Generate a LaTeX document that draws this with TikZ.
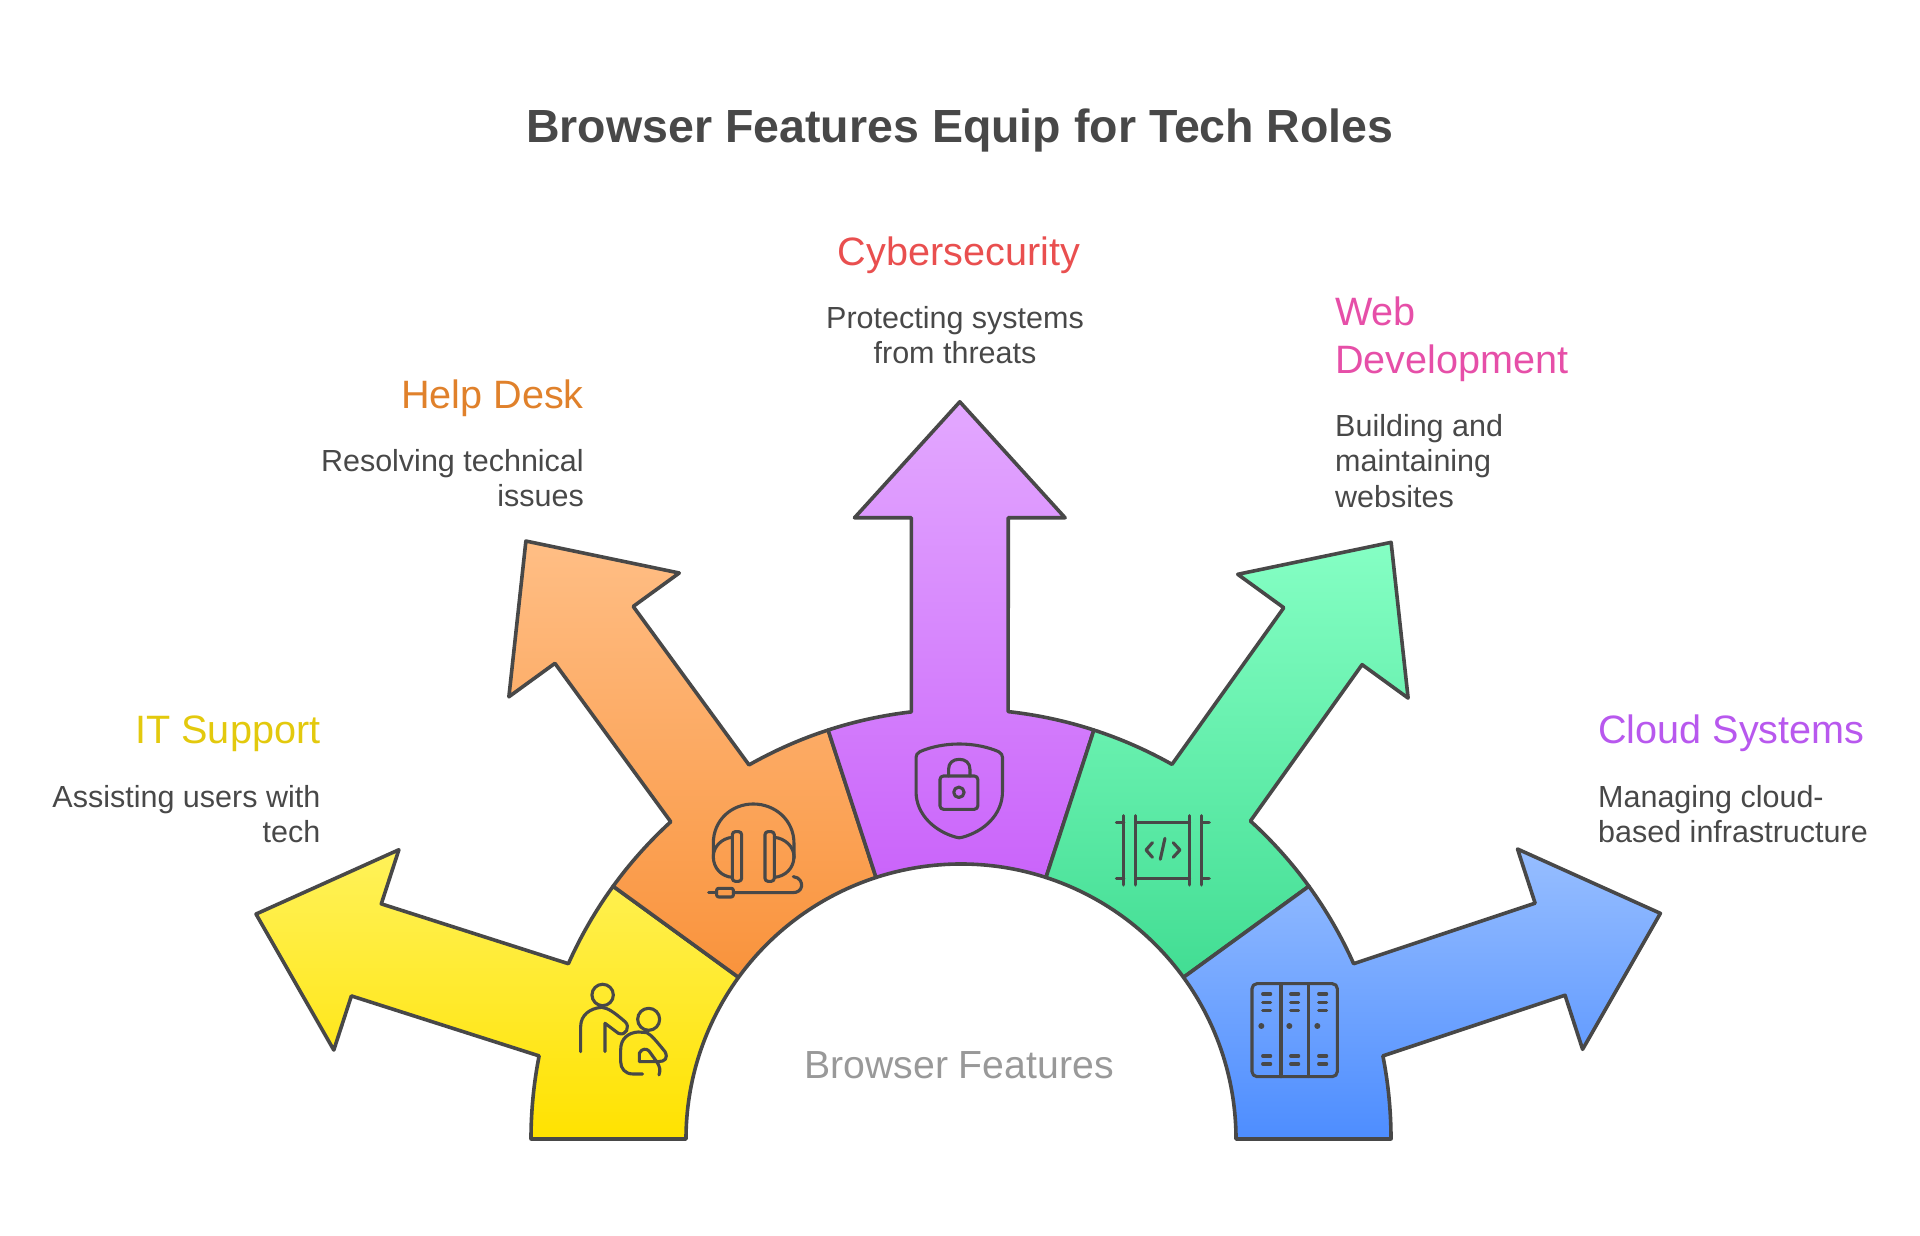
\documentclass[tikz,border=0pt]{standalone}
\usepackage{fontspec}
\setmainfont{Liberation Sans}
\definecolor{ink}{HTML}{484848}
\definecolor{hubtext}{HTML}{999999}
\definecolor{yA}{HTML}{FFF25A}\definecolor{yB}{HTML}{FFE200}
\definecolor{oA}{HTML}{FFBE85}\definecolor{oB}{HTML}{F9933C}
\definecolor{pA}{HTML}{E3A8FF}\definecolor{pB}{HTML}{CA64FA}
\definecolor{gA}{HTML}{85FFC4}\definecolor{gB}{HTML}{42DD93}
\definecolor{bA}{HTML}{97BEFF}\definecolor{bB}{HTML}{4D8DFF}
\definecolor{itname}{HTML}{E3C90D}
\definecolor{helpname}{HTML}{E0812B}
\definecolor{cybername}{HTML}{E94F4F}
\definecolor{webname}{HTML}{E64FA8}
\definecolor{cloudname}{HTML}{B858EE}
\tikzset{
  segment/.style={draw=ink,line width=3.6pt,line join=round},
  icon/.style={draw=ink,line width=3.1pt,line cap=round,line join=round},
  headline/.style={font=\fontsize{46.5pt}{56pt}\selectfont\bfseries,text=ink,inner sep=0pt},
  rolename/.style={font=\fontsize{39.6pt}{48pt}\selectfont,inner sep=0pt},
  rolenote/.style={font=\fontsize{30.5pt}{35.6pt}\selectfont,text=ink,inner sep=0pt},
  hub/.style={font=\fontsize{39.2pt}{44pt}\selectfont,text=hubtext,inner sep=0pt}
}
% rotation, top colour, bottom colour, head shift x, head shift y, shaft-foot angle offset
\newcommand{\rolearrow}[6]{%
  \draw[segment,top color=#2,bottom color=#3,rotate=#1]
    (108:430) arc[start angle=108,end angle={96.46+#6},radius=430]
    -- ([rotate=-#1,shift={(#4,#5)},rotate=#1]-48.4,620)
    -- ([rotate=-#1,shift={(#4,#5)},rotate=#1]-105.3,620)
    -- ([rotate=-#1,shift={(#4,#5)},rotate=#1]0,736)
    -- ([rotate=-#1,shift={(#4,#5)},rotate=#1]105.3,620)
    -- ([rotate=-#1,shift={(#4,#5)},rotate=#1]48.4,620)
    -- ({83.54+#6}:430) arc[start angle={83.54+#6},end angle=72,radius=430]
    -- (72:275) arc[start angle=72,end angle=108,radius=275] -- cycle;}
\begin{document}
\begin{tikzpicture}[x=1pt,y=1pt]
\useasboundingbox (0,0) rectangle (1920,1236);
\begin{scope}[shift={(961,97)}]
  \rolearrow{72}{yA}{yB}{-5}{-2.5}{0.4}
  \rolearrow{36}{oA}{oB}{-2.5}{2.5}{0}
  \rolearrow{0}{pA}{pB}{-1.2}{1.2}{0.16}
  \rolearrow{-36}{gA}{gB}{-2.5}{1.2}{0.15}
  \rolearrow{-72}{bA}{bB}{-0.6}{-1.8}{-0.4}
\end{scope}

% people icon
\begin{scope}[shift={(500,476)},x=0.3333pt,y=-0.3333pt]
  \draw[icon] (308,705) circle (10.7pt);
  \draw[icon] (242,875) -- (242,800) .. controls (242,765) and (270,745) .. (305,742)
    .. controls (325,745) and (340,755) .. (375,785)
    .. controls (392,800) and (378,830) .. (355,820) -- (315,790) -- (315,875);
  \draw[icon] (446,778) circle (11pt);
  \draw[icon] (428,942) -- (398,942) .. controls (375,942) and (362,925) .. (362,905) -- (362,870)
    .. controls (362,835) and (385,818) .. (415,816) -- (440,818)
    .. controls (455,825) and (470,845) .. (495,875)
    .. controls (505,895) and (495,905) .. (475,905) -- (418,905) -- (418,880)
    .. controls (425,865) and (440,865) .. (447,873) -- (470,905)
    .. controls (480,920) and (482,930) .. (477,945);
\end{scope}

% headset icon
\begin{scope}[shift={(500,476)},x=0.3333pt,y=-0.3333pt]
  \draw[icon] (640,295) -- (640,250) .. controls (640,180) and (695,132) .. (760,132)
    .. controls (825,132) and (882,180) .. (882,250) -- (882,295);
  \draw[icon,rounded corners=3pt] (697,215) rectangle (725,364);
  \draw[icon,rounded corners=3pt] (795,215) rectangle (823,364);
  \draw[icon] (697,232) .. controls (665,235) and (640,260) .. (640,290)
    .. controls (640,325) and (665,350) .. (697,352);
  \draw[icon] (823,232) .. controls (855,235) and (882,260) .. (882,290)
    .. controls (882,325) and (855,350) .. (823,352);
  \draw[icon] (880,350) .. controls (900,352) and (906,368) .. (905,378)
    .. controls (903,392) and (892,398) .. (878,398) -- (700,398);
  \draw[icon,rounded corners=2pt] (650,385) rectangle (700,411);
  \draw[icon] (626,398) -- (650,398);
\end{scope}

% shield icon
\begin{scope}[shift={(680,516)},x=0.3571pt,y=-0.3333pt]
  \draw[icon] (782,72) .. controls (825,72) and (865,82) .. (892,95)
    .. controls (900,100) and (903,105) .. (903,112) -- (903,215)
    .. controls (903,285) and (850,335) .. (790,352)
    .. controls (785,354) and (779,354) .. (774,352)
    .. controls (715,335) and (661,285) .. (661,215) -- (661,112)
    .. controls (661,105) and (664,100) .. (672,95)
    .. controls (699,82) and (739,72) .. (782,72) -- cycle;
  \draw[icon,rounded corners=3.5pt] (728,168) rectangle (834,268);
  \draw[icon] (752,168) -- (752,148) .. controls (752,128) and (765,118) .. (782,118)
    .. controls (799,118) and (812,128) .. (812,148) -- (812,168);
  \draw[icon] (781,217) circle (5.2pt);
\end{scope}

% code frame icon
\begin{scope}[shift={(680,516)},x=0.3571pt,y=-0.3333pt]
  \foreach \xx in {1243,1276,1427,1461} \draw[icon] (\xx,287) -- (\xx,495);
  \foreach \yy in {308,475} {
    \draw[icon] (1222,\yy) -- (1243,\yy);
    \draw[icon] (1276,\yy) -- (1427,\yy);
    \draw[icon] (1461,\yy) -- (1482,\yy);
  }
  \draw[icon] (1323,368) -- (1305,390) -- (1323,412);
  \draw[icon] (1381,368) -- (1400,390) -- (1381,412);
  \draw[icon] (1358,355) -- (1345,418);
\end{scope}

% lockers icon
\begin{scope}[shift={(1220,276)},x=0.3333pt,y=-0.3333pt]
  \draw[icon,rounded corners=5pt] (96,71) rectangle (352,350);
  \draw[icon] (183,71) -- (183,350);
  \draw[icon] (266,71) -- (266,350);
  \foreach \xx in {124,208,292} {
    \foreach \yy in {102,127,151,288,312} \draw[icon] (\xx+4,\yy) -- (\xx+28,\yy);
    \fill[ink] (\xx,198) circle (3pt);
  }
\end{scope}

% texts
\node[headline] (title) at (960,1106) {Browser Features Equip for Tech Roles};

\node[rolename,text=cybername,anchor=base] (cyber) at (959,970) {Cybersecurity};
\node[rolenote,align=center,anchor=north] (cybernote) at (955,930) {Protecting systems\\from threats};

\node[rolename,text=webname,align=left,anchor=north west] (web) at (1335,939) {Web\\Development};
\node[rolenote,align=left,anchor=north west] (webnote) at (1335,822) {Building and\\maintaining\\websites};

\node[rolename,text=helpname,anchor=base east] (help) at (584,827) {Help Desk};
\node[rolenote,align=right,anchor=north east] (helpnote) at (584,787) {Resolving technical\\issues};

\node[rolename,text=itname,anchor=base east] (it) at (320.5,492) {IT Support};
\node[rolenote,align=right,anchor=north east] (itnote) at (320.5,451) {Assisting users with\\tech};

\node[rolename,text=cloudname,anchor=base west] (cloud) at (1598,492) {Cloud Systems};
\node[rolenote,align=left,anchor=north west] (cloudnote) at (1598,451) {Managing cloud-\\based infrastructure};

\node[hub] (hubname) at (959,171) {Browser Features};
\end{tikzpicture}
\end{document}
